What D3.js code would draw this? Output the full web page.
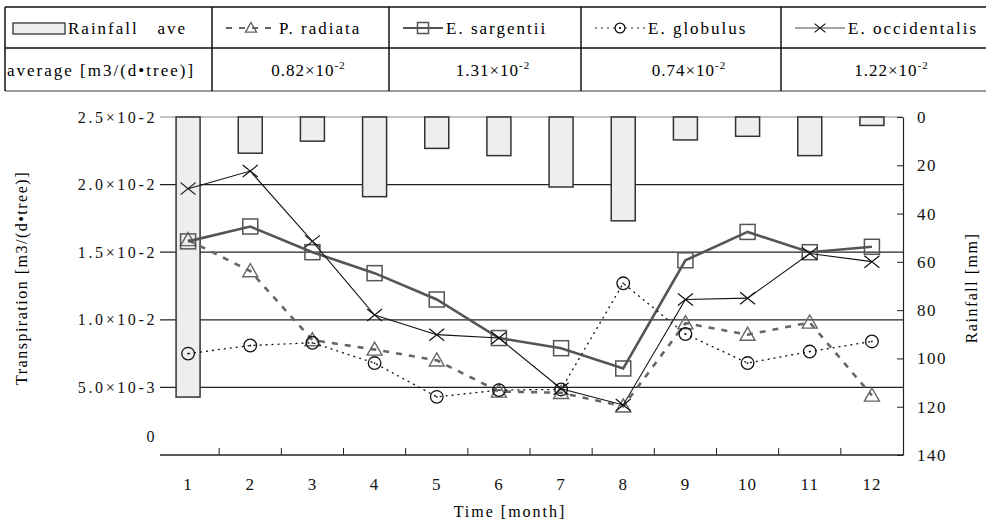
<!DOCTYPE html>
<html>
<head>
<meta charset="utf-8">
<script src="https://cdnjs.cloudflare.com/ajax/libs/d3/7.8.5/d3.min.js"></script>
<style>
    body { margin: 0; background: #fff; }
    svg text { font-family: "Liberation Serif", "Times New Roman", "DejaVu Serif", serif; }
</style>
</head>
<body>
<div id="chart"></div>
<script>
// --- data (transpiration in units of 10^-2 m3/(d·tree), rainfall in mm) ---
const months = [1, 2, 3, 4, 5, 6, 7, 8, 9, 10, 11, 12];
const rainfall = [116, 15, 10, 33, 13, 16, 29, 43, 9.5, 8, 16, 3.5];
const pRadiata = [1.59, 1.36, 0.85, 0.78, 0.70, 0.47, 0.46, 0.36, 0.975, 0.89, 0.98, 0.44];
const eSargentii = [1.58, 1.69, 1.50, 1.345, 1.15, 0.865, 0.79, 0.64, 1.44, 1.65, 1.50, 1.54];
const eGlobulus = [0.75, 0.81, 0.83, 0.68, 0.43, 0.48, 0.485, 1.27, 0.895, 0.68, 0.765, 0.84];
const eOccidentalis = [1.97, 2.10, 1.58, 1.035, 0.89, 0.865, 0.49, 0.37, 1.15, 1.16, 1.49, 1.43];

const leftTicks = [0, 0.5, 1.0, 1.5, 2.0, 2.5];
const leftTickLabels = ["0", "5.0×10-3", "1.0×10-2", "1.5×10-2", "2.0×10-2", "2.5×10-2"];
const rightTicks = [0, 20, 40, 60, 80, 100, 120, 140];

const legendNames = ["Rainfall   ave", "P. radiata", "E. sargentii", "E. globulus", "E. occidentalis"];
const averages = ["0.82", "1.31", "0.74", "1.22"];
const avgExponent = "-2";
const rowLabel = "average [m3/(d•tree)]";

// --- layout ---
const W = 986, H = 528;
const plot = { left: 157, right: 903, top: 117, bottom: 455 };
const SERIF = "Liberation Serif, Times New Roman, DejaVu Serif, serif";

const svg = d3.select("#chart").append("svg")
    .attr("width", W)
    .attr("height", H)
    .attr("font-family", SERIF);

// Scales
const x = d3.scaleBand()
    .domain(months)
    .range([plot.left, plot.right])
    .paddingInner(0)
    .paddingOuter(0);
const cx = m => x(m) + x.bandwidth() / 2;

const y = d3.scaleLinear().domain([0, 2.5]).range([plot.bottom, plot.top]);
const yR = d3.scaleLinear().domain([0, 140]).range([plot.top, plot.bottom]);

// Gridlines (left ticks double as grid)
svg.append("g")
    .selectAll("line")
    .data(leftTicks.filter(d => d > 0))
    .join("line")
    .attr("x1", 160)
    .attr("x2", plot.right)
    .attr("y1", d => y(d))
    .attr("y2", d => y(d))
    .attr("stroke", d => d === 2.5 ? "#888" : "#222")
    .attr("stroke-width", 1.2);

// Left axis labels
const leftAxis = svg.append("g")
    .attr("transform", `translate(160,0)`)
    .call(d3.axisLeft(y).tickValues(leftTicks)
        .tickFormat((d, i) => leftTickLabels[i])
        .tickSize(0).tickPadding(3));
leftAxis.attr("font-family", SERIF);
leftAxis.select(".domain").remove();
leftAxis.selectAll("text")
    .attr("font-family", SERIF)
    .attr("font-size", 16)
    .style("letter-spacing", "2.6px")
    .attr("fill", "#111")
    .attr("dy", d => d === 0 ? "-0.85em" : "0.32em");

// Rainfall bars (hanging from the top)
const barW = 24;
svg.append("g")
    .selectAll("rect")
    .data(months.map((m, i) => ({ m, v: rainfall[i] })))
    .join("rect")
    .attr("x", d => cx(d.m) - barW / 2)
    .attr("y", yR(0))
    .attr("width", barW)
    .attr("height", d => yR(d.v) - yR(0))
    .attr("fill", "#eeeeee")
    .attr("stroke", "#333")
    .attr("stroke-width", 1.5);

// Right axis
const rightAxis = svg.append("g")
    .attr("transform", `translate(${plot.right},0)`)
    .call(d3.axisRight(yR).tickValues(rightTicks)
        .tickSizeInner(-6).tickSizeOuter(0).tickPadding(14));
rightAxis.attr("font-family", SERIF);
rightAxis.select(".domain").attr("stroke", "#222").attr("stroke-width", 1.2);
rightAxis.selectAll(".tick line").attr("stroke", "#222");
rightAxis.selectAll("text")
    .attr("font-family", SERIF)
    .attr("font-size", 17)
    .style("letter-spacing", "1.5px")
    .attr("fill", "#111");

// Bottom axis
svg.append("line")
    .attr("x1", 160).attr("x2", plot.right)
    .attr("y1", plot.bottom).attr("y2", plot.bottom)
    .attr("stroke", "#222").attr("stroke-width", 1.5);

svg.append("g")
    .selectAll("line")
    .data(months.slice(1))
    .join("line")
    .attr("x1", d => x(d)).attr("x2", d => x(d))
    .attr("y1", plot.bottom).attr("y2", plot.bottom - 7)
    .attr("stroke", "#222");

const bottomAxis = svg.append("g")
    .attr("transform", `translate(0,${plot.bottom})`)
    .call(d3.axisBottom(x).tickSize(0).tickPadding(23));
bottomAxis.attr("font-family", SERIF);
bottomAxis.select(".domain").remove();
bottomAxis.selectAll("text")
    .attr("font-family", SERIF)
    .attr("font-size", 17)
    .style("letter-spacing", "1px")
    .attr("fill", "#111");

// Axis titles
svg.append("text")
    .attr("x", (plot.left + plot.right) / 2 - 20)
    .attr("y", 517)
    .attr("text-anchor", "middle")
    .attr("font-size", 16)
    .style("letter-spacing", "2px")
    .text("Time [month]");

svg.append("text")
    .attr("transform", "translate(27,278) rotate(-90)")
    .attr("text-anchor", "middle")
    .attr("font-size", 16)
    .style("letter-spacing", "1.5px")
    .text("Transpiration [m3/(d•tree)]");

svg.append("text")
    .attr("transform", "translate(977,288) rotate(-90)")
    .attr("text-anchor", "middle")
    .attr("font-size", 16)
    .style("letter-spacing", "1.5px")
    .text("Rainfall [mm]");

// Series
const series = [
    { name: "P. radiata", values: pRadiata, color: "#666", width: 2.6, dash: "6 7", marker: "triangle" },
    { name: "E. sargentii", values: eSargentii, color: "#555", width: 2.6, dash: null, marker: "square" },
    { name: "E. globulus", values: eGlobulus, color: "#111", width: 1.3, dash: "2 4", marker: "circle" },
    { name: "E. occidentalis", values: eOccidentalis, color: "#111", width: 1.1, dash: null, marker: "cross" }
];

const line = d3.line()
    .x(d => cx(d.m))
    .y(d => y(d.v));

function drawMarker(g, type, px, py, s, color) {
    const h = s / 2;
    if (type === "triangle") {
        g.append("path")
            .attr("d", `M${px},${py - h}L${px + h},${py + h * 0.75}L${px - h},${py + h * 0.75}Z`)
            .attr("fill", "none").attr("stroke", color).attr("stroke-width", 1.4);
    } else if (type === "square") {
        g.append("rect")
            .attr("x", px - h).attr("y", py - h)
            .attr("width", s).attr("height", s)
            .attr("fill", "none").attr("stroke", color).attr("stroke-width", 1.5);
    } else if (type === "circle") {
        g.append("circle")
            .attr("cx", px).attr("cy", py).attr("r", h * 0.9)
            .attr("fill", "none").attr("stroke", color).attr("stroke-width", 1.3);
        g.append("circle")
            .attr("cx", px).attr("cy", py).attr("r", 0.9)
            .attr("fill", color);
    } else if (type === "cross") {
        g.append("path")
            .attr("d", `M${px - h},${py - h * 0.8}L${px + h},${py + h * 0.8}M${px - h},${py + h * 0.8}L${px + h},${py - h * 0.8}`)
            .attr("stroke", color).attr("stroke-width", 1.2);
    }
}

series.forEach(s => {
    const pts = months.map((m, i) => ({ m, v: s.values[i] }));
    svg.append("path")
        .datum(pts)
        .attr("d", line)
        .attr("fill", "none")
        .attr("stroke", s.color)
        .attr("stroke-width", s.width)
        .attr("stroke-dasharray", s.dash);
    const mg = svg.append("g");
    pts.forEach(p => drawMarker(mg, s.marker, cx(p.m), y(p.v), s.marker === "circle" ? 14 : 15, s.color));
});

// --- Legend table ---
const colX = [5, 212, 389, 581, 781, W];
const rowY = [7, 48, 91];
const table = svg.append("g");

table.selectAll("line.h")
    .data(rowY)
    .join("line")
    .attr("x1", colX[0]).attr("x2", W)
    .attr("y1", d => d).attr("y2", d => d)
    .attr("stroke", (d, i) => i === 2 ? "#777" : "#111")
    .attr("stroke-width", 1.5);

table.selectAll("line.v")
    .data(colX.slice(0, 5))
    .join("line")
    .attr("x1", d => d).attr("x2", d => d)
    .attr("y1", rowY[0]).attr("y2", rowY[2])
    .attr("stroke", "#111")
    .attr("stroke-width", 1.5);

const hdrBase = 34, valBase = 76;
const swOff = 14, swW = 50;

// Rainfall swatch
table.append("rect")
    .attr("x", colX[0] + 8).attr("y", 23)
    .attr("width", 52).attr("height", 11)
    .attr("fill", "#eeeeee").attr("stroke", "#333").attr("stroke-width", 1.3);
table.append("text")
    .attr("x", colX[0] + 63).attr("y", hdrBase)
    .attr("font-size", 17).style("letter-spacing", "2px")
    .style("white-space", "pre")
    .text(legendNames[0]);

series.forEach((s, i) => {
    const c0 = colX[i + 1];
    const sx = c0 + swOff, sy = 28;
    const w = s.marker === "square" ? 40 : swW;
    table.append("line")
        .attr("x1", sx).attr("x2", sx + w)
        .attr("y1", sy).attr("y2", sy)
        .attr("stroke", s.color)
        .attr("stroke-width", s.width * 0.7)
        .attr("stroke-dasharray", s.dash);
    drawMarker(table, s.marker, sx + w / 2, sy, 11, s.color);
    table.append("text")
        .attr("x", sx + w + 3).attr("y", hdrBase)
        .attr("font-size", 17).style("letter-spacing", "2px")
        .text(s.name);
});

table.append("text")
    .attr("x", colX[0] + 2).attr("y", valBase)
    .attr("font-size", 17).style("letter-spacing", "2px")
    .text(rowLabel);

averages.forEach((a, i) => {
    const mid = (colX[i + 1] + colX[i + 2]) / 2 + 8;
    const t = table.append("text")
        .attr("x", mid).attr("y", valBase)
        .attr("text-anchor", "middle")
        .attr("font-size", 17).style("letter-spacing", "1px");
    t.append("tspan").text(a + "×10");
    t.append("tspan").attr("dy", -7).attr("font-size", 11).text(avgExponent);
});
</script>
</body>
</html>
